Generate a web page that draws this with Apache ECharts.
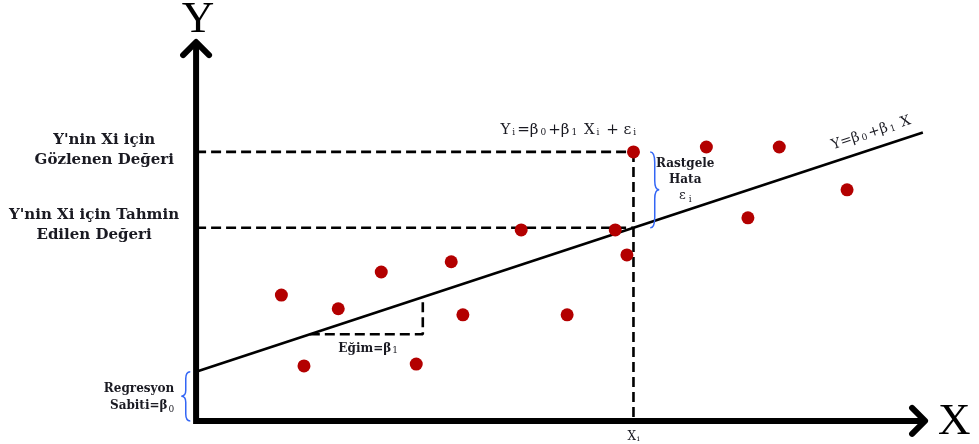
<!DOCTYPE html>
<html><head><meta charset="utf-8">
<script src="https://cdn.jsdelivr.net/npm/echarts@6/dist/echarts.min.js"></script>
<style>html,body{margin:0;padding:0;background:#fff}#c{width:979px;height:444px}</style>
</head><body><div id="c"></div>
<script>
// Observed points (data units)
const obsX = [11.7, 19.5, 25.4, 35.0, 36.6, 14.8, 30.2, 44.6, 50.9, 57.5, 59.1, 60.0, 70.0, 80.0, 75.7, 89.3];
const obsY = [33.2, 29.6, 39.3, 42.0, 28.0, 14.5, 15.0, 50.4, 28.0, 50.4, 43.8, 71.0, 72.3, 72.3, 53.6, 61.0];
// Regression parameters
const beta0 = 13.0;
const beta1 = 0.633;
const xi = 60;
const yiObserved = 71.0;
const lineXRange = [0, 99.7];
const slopeRun = [15.6, 31.1];
const axisLen = [100, 100];
const viewX = [-26.9, 107.4];
const viewY = [-6.1, 111.1];

const yPred = beta0 + beta1 * xi;
const fit = x => beta0 + beta1 * x;

const SERIF = "'DejaVu Serif', 'Liberation Serif', serif";
const TIMES = "'Liberation Serif', 'DejaVu Serif', serif";
const txt = '#1a1a22';

const chart = echarts.init(document.getElementById('c'), null, {renderer: 'canvas'});

function lineSeries(data, style, z) {
  return {type: 'line', data: data, symbol: 'none', silent: true, z: z || 2,
    lineStyle: Object.assign({color: '#000'}, style), animation: false};
}
const dash = {width: 2.6, type: [10, 5]};

function label(x, y, text, opts) {
  return {value: [x, y], label: Object.assign({show: true, position: 'inside', formatter: text,
    fontFamily: SERIF, fontWeight: 'bold', fontSize: 15, color: txt, opacity: 1}, opts)};
}
const sub = {fontSize: 9, fontFamily: SERIF, fontWeight: 'normal', verticalAlign: 'bottom', padding: [0, 0, 0, 1], color: txt};

const labels = [
  label(0.27, 105.8, 'Y', {fontFamily: TIMES, fontWeight: 'normal', fontSize: 45, color: '#000'}),
  label(104.0, -0.3, 'X', {fontFamily: TIMES, fontWeight: 'normal', fontSize: 45, color: '#000'}),
  label(-12.6, 71.5, "Y'nin Xi için\nGözlenen Değeri", {lineHeight: 20}),
  label(-14.0, 51.7, "Y'nin Xi için Tahmin\nEdilen Değeri", {lineHeight: 20}),
  label(-3.0, 6.3, "{b|Regresyon}\n{b|Sabiti=β}{s|0}", {align: 'right', fontSize: 12,
    rich: {b: {fontSize: 12, fontWeight: 'bold', fontFamily: SERIF, color: txt, lineHeight: 17}, s: sub}}),
  label(23.6, 19.0, "{b|Eğim=β}{s|1}", {fontSize: 12,
    rich: {b: {fontSize: 12, fontWeight: 'bold', fontFamily: SERIF, color: txt}, s: sub}}),
  label(51.2, 76.8, "{m|Y}{s|i}{m|=β}{s|0}{m|+β}{s|1}{m| X}{s|i}{m| + ε}{s|i}", {fontWeight: 'normal',
    rich: {m: {fontSize: 15, fontFamily: SERIF, color: txt}, s: Object.assign({}, sub, {padding: [0, 2, 0, 2]})}}),
  label(67.1, 63.6, "{b|Rastgele}\n{b|Hata}\n{m|ε}{s|i}", {fontSize: 12,
    rich: {b: {fontSize: 12, fontWeight: 'bold', fontFamily: SERIF, color: txt, lineHeight: 16},
      m: {fontSize: 13, fontWeight: 'normal', fontFamily: SERIF, color: txt, lineHeight: 16},
      s: Object.assign({}, sub, {padding: [0, 0, 0, 3]})}}),
  label(92.6, 76.0, "{m|Y=β}{s|0}{m|+β}{s|1}{m| X}", {rotate: 18, fontWeight: 'normal',
    rich: {m: {fontSize: 14, fontFamily: SERIF, color: txt}, s: Object.assign({}, sub, {padding: [0, 2, 0, 2]})}}),
  label(60, -4.2, "{m|X}{s|i}", {fontWeight: 'normal',
    rich: {m: {fontSize: 12, fontFamily: SERIF, color: txt}, s: Object.assign({}, sub, {fontSize: 8})}})
];

const braces = [
  [xi + 2.3, yiObserved, yPred, 1],
  [-0.8, beta0, 0, -1]
];

chart.setOption({
  animation: false,
  backgroundColor: '#fff',
  grid: {left: 0, right: 0, top: 0, bottom: 0},
  xAxis: {type: 'value', min: viewX[0], max: viewX[1], show: false},
  yAxis: {type: 'value', min: viewY[0], max: viewY[1], show: false},
  series: [
    // dashed guides
    lineSeries([[0, yiObserved], [xi, yiObserved]], dash),
    lineSeries([[0, yPred], [xi, yPred]], dash),
    lineSeries([[xi, yiObserved], [xi, 0]], dash),
    lineSeries([[slopeRun[0], fit(slopeRun[0])], [slopeRun[1], fit(slopeRun[0])], [slopeRun[1], fit(slopeRun[1])]], dash),
    // regression line
    lineSeries([[lineXRange[0], fit(lineXRange[0])], [lineXRange[1], fit(lineXRange[1])]], {width: 2.6}, 3),
    // axes
    lineSeries([[0, axisLen[1] - 0.5], [0, 0], [axisLen[0] - 0.3, 0]], {width: 6, cap: 'square', join: 'miter'}, 4),
    lineSeries([[-1.78, axisLen[1] - 3.43], [0, axisLen[1]], [1.78, axisLen[1] - 3.43]], {width: 6, cap: 'round', join: 'round'}, 4),
    lineSeries([[axisLen[0] - 1.78, 3.43], [axisLen[0], 0], [axisLen[0] - 1.78, -3.43]], {width: 6, cap: 'round', join: 'round'}, 4),
    // points
    {type: 'scatter', data: obsX.map((x, i) => [x, obsY[i]]), symbolSize: 13, z: 5, silent: true,
      itemStyle: {color: '#b30000', opacity: 1}},
    // braces
    {type: 'custom', data: braces, z: 5, silent: true,
      renderItem: function (params, api) {
        const x = api.value(0), dir = api.value(3);
        const p1 = api.coord([x, api.value(1)]), p2 = api.coord([x, api.value(2)]);
        const x0 = p1[0], t = p1[1], b = p2[1], m = (t + b) / 2, h = b - t;
        const w = 9 * dir, hw = w / 2;
        const d = `M${x0},${t} Q${x0 + hw},${t} ${x0 + hw},${t + h * 0.14} L${x0 + hw},${m - h * 0.12} Q${x0 + hw},${m} ${x0 + w},${m} Q${x0 + hw},${m} ${x0 + hw},${m + h * 0.12} L${x0 + hw},${b - h * 0.14} Q${x0 + hw},${b} ${x0},${b}`;
        return {type: 'path', shape: {pathData: d}, style: {stroke: '#3366f5', fill: null, lineWidth: 1.5}};
      }},
    // text annotations
    {type: 'scatter', data: labels, symbolSize: 1, z: 6, silent: true,
      itemStyle: {color: 'rgba(0,0,0,0)', opacity: 1},
      labelLayout: {hideOverlap: false}}
  ]
});
</script>
</body></html>
